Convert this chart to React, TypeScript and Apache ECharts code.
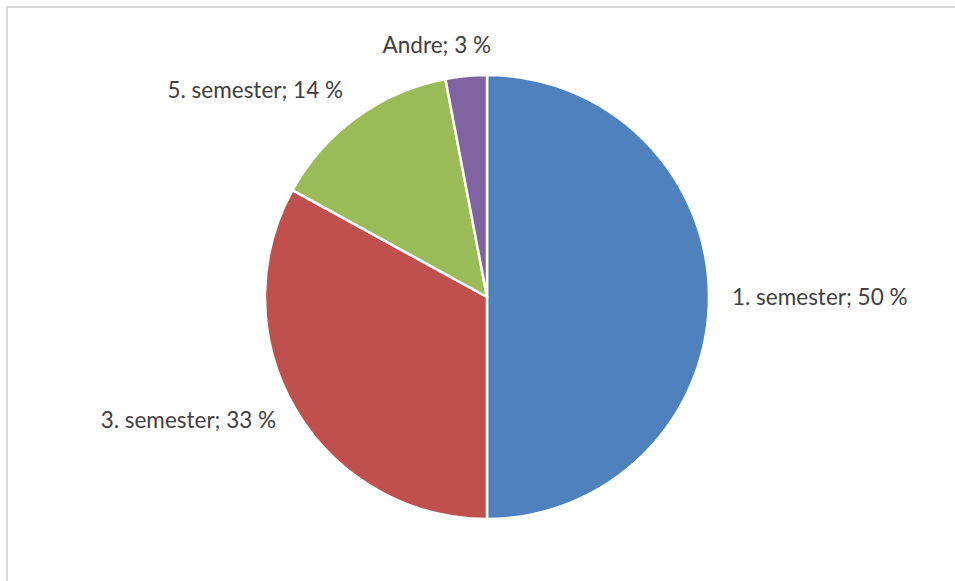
import React, { useEffect, useRef } from "react";
import * as echarts from "echarts";

const categories = ["1. semester", "3. semester", "5. semester", "Andre"];
const values = [50, 33, 14, 3];
const colors = ["#4F81BD", "#C0504D", "#9BBB59", "#8064A2"];

const CX = 487;
const CY = 297;
const R = 222;
const GAP_X = 23;
const GAP_Y = 20;

export default function App() {
  const ref = useRef<HTMLDivElement>(null);
  useEffect(() => {
    if (!ref.current) return;
    const chart = echarts.init(ref.current, null, { renderer: "svg" });
    const total = values.reduce((a, b) => a + b, 0);
    const mids: number[] = [];
    let acc = 0;
    values.forEach((v) => {
      const start = 90 - (acc / total) * 360;
      acc += v;
      const end = 90 - (acc / total) * 360;
      mids.push(((start + end) / 2) * (Math.PI / 180));
    });
    chart.setOption({
      animation: false,
      backgroundColor: "transparent",
      series: [
        {
          type: "pie",
          center: [CX, CY],
          radius: R,
          startAngle: 90,
          clockwise: true,
          data: categories.map((c, i) => ({
            name: c,
            value: values[i],
            itemStyle: { color: colors[i] },
          })),
          itemStyle: { borderColor: "#ffffff", borderWidth: 2.5 },
          label: {
            show: true,
            position: "outside",
            formatter: "{b}; {c} %",
            fontFamily: "Lato",
            fontSize: 22.5,
            lineHeight: 22,
            color: "#404040",
          },
          labelLine: { show: false },
          emphasis: { disabled: true },
          labelLayout: (params: any) => {
            const th = mids[params.dataIndex];
            const c = Math.cos(th);
            const s = Math.sin(th);
            const px = CX + (R + GAP_X) * c;
            const py = CY - (R + GAP_Y) * s;
            const w = params.labelRect.width;
            const h = params.labelRect.height;
            const fx = Math.min(1, Math.max(0, 0.5 - 2.66 * c));
            const fy = s > 0 ? Math.min(1, 0.5 + s) : 0.5;
            return {
              x: px - fx * w,
              y: py - fy * h,
              align: "left",
              verticalAlign: "top",
            };
          },
        },
      ],
    });
    return () => chart.dispose();
  }, []);
  return (
    <div
      style={{
        position: "fixed",
        left: 0,
        top: 0,
        width: 955,
        height: 581,
        overflow: "hidden",
        background: "#ffffff",
      }}
    >
      <div
        style={{
          position: "absolute",
          left: 6,
          top: 6,
          width: 1200,
          height: 1200,
          border: "2px solid #d9d9d9",
        }}
      />
      <div
        ref={ref}
        style={{ position: "absolute", left: 0, top: 0, width: 955, height: 581 }}
      />
    </div>
  );
}
